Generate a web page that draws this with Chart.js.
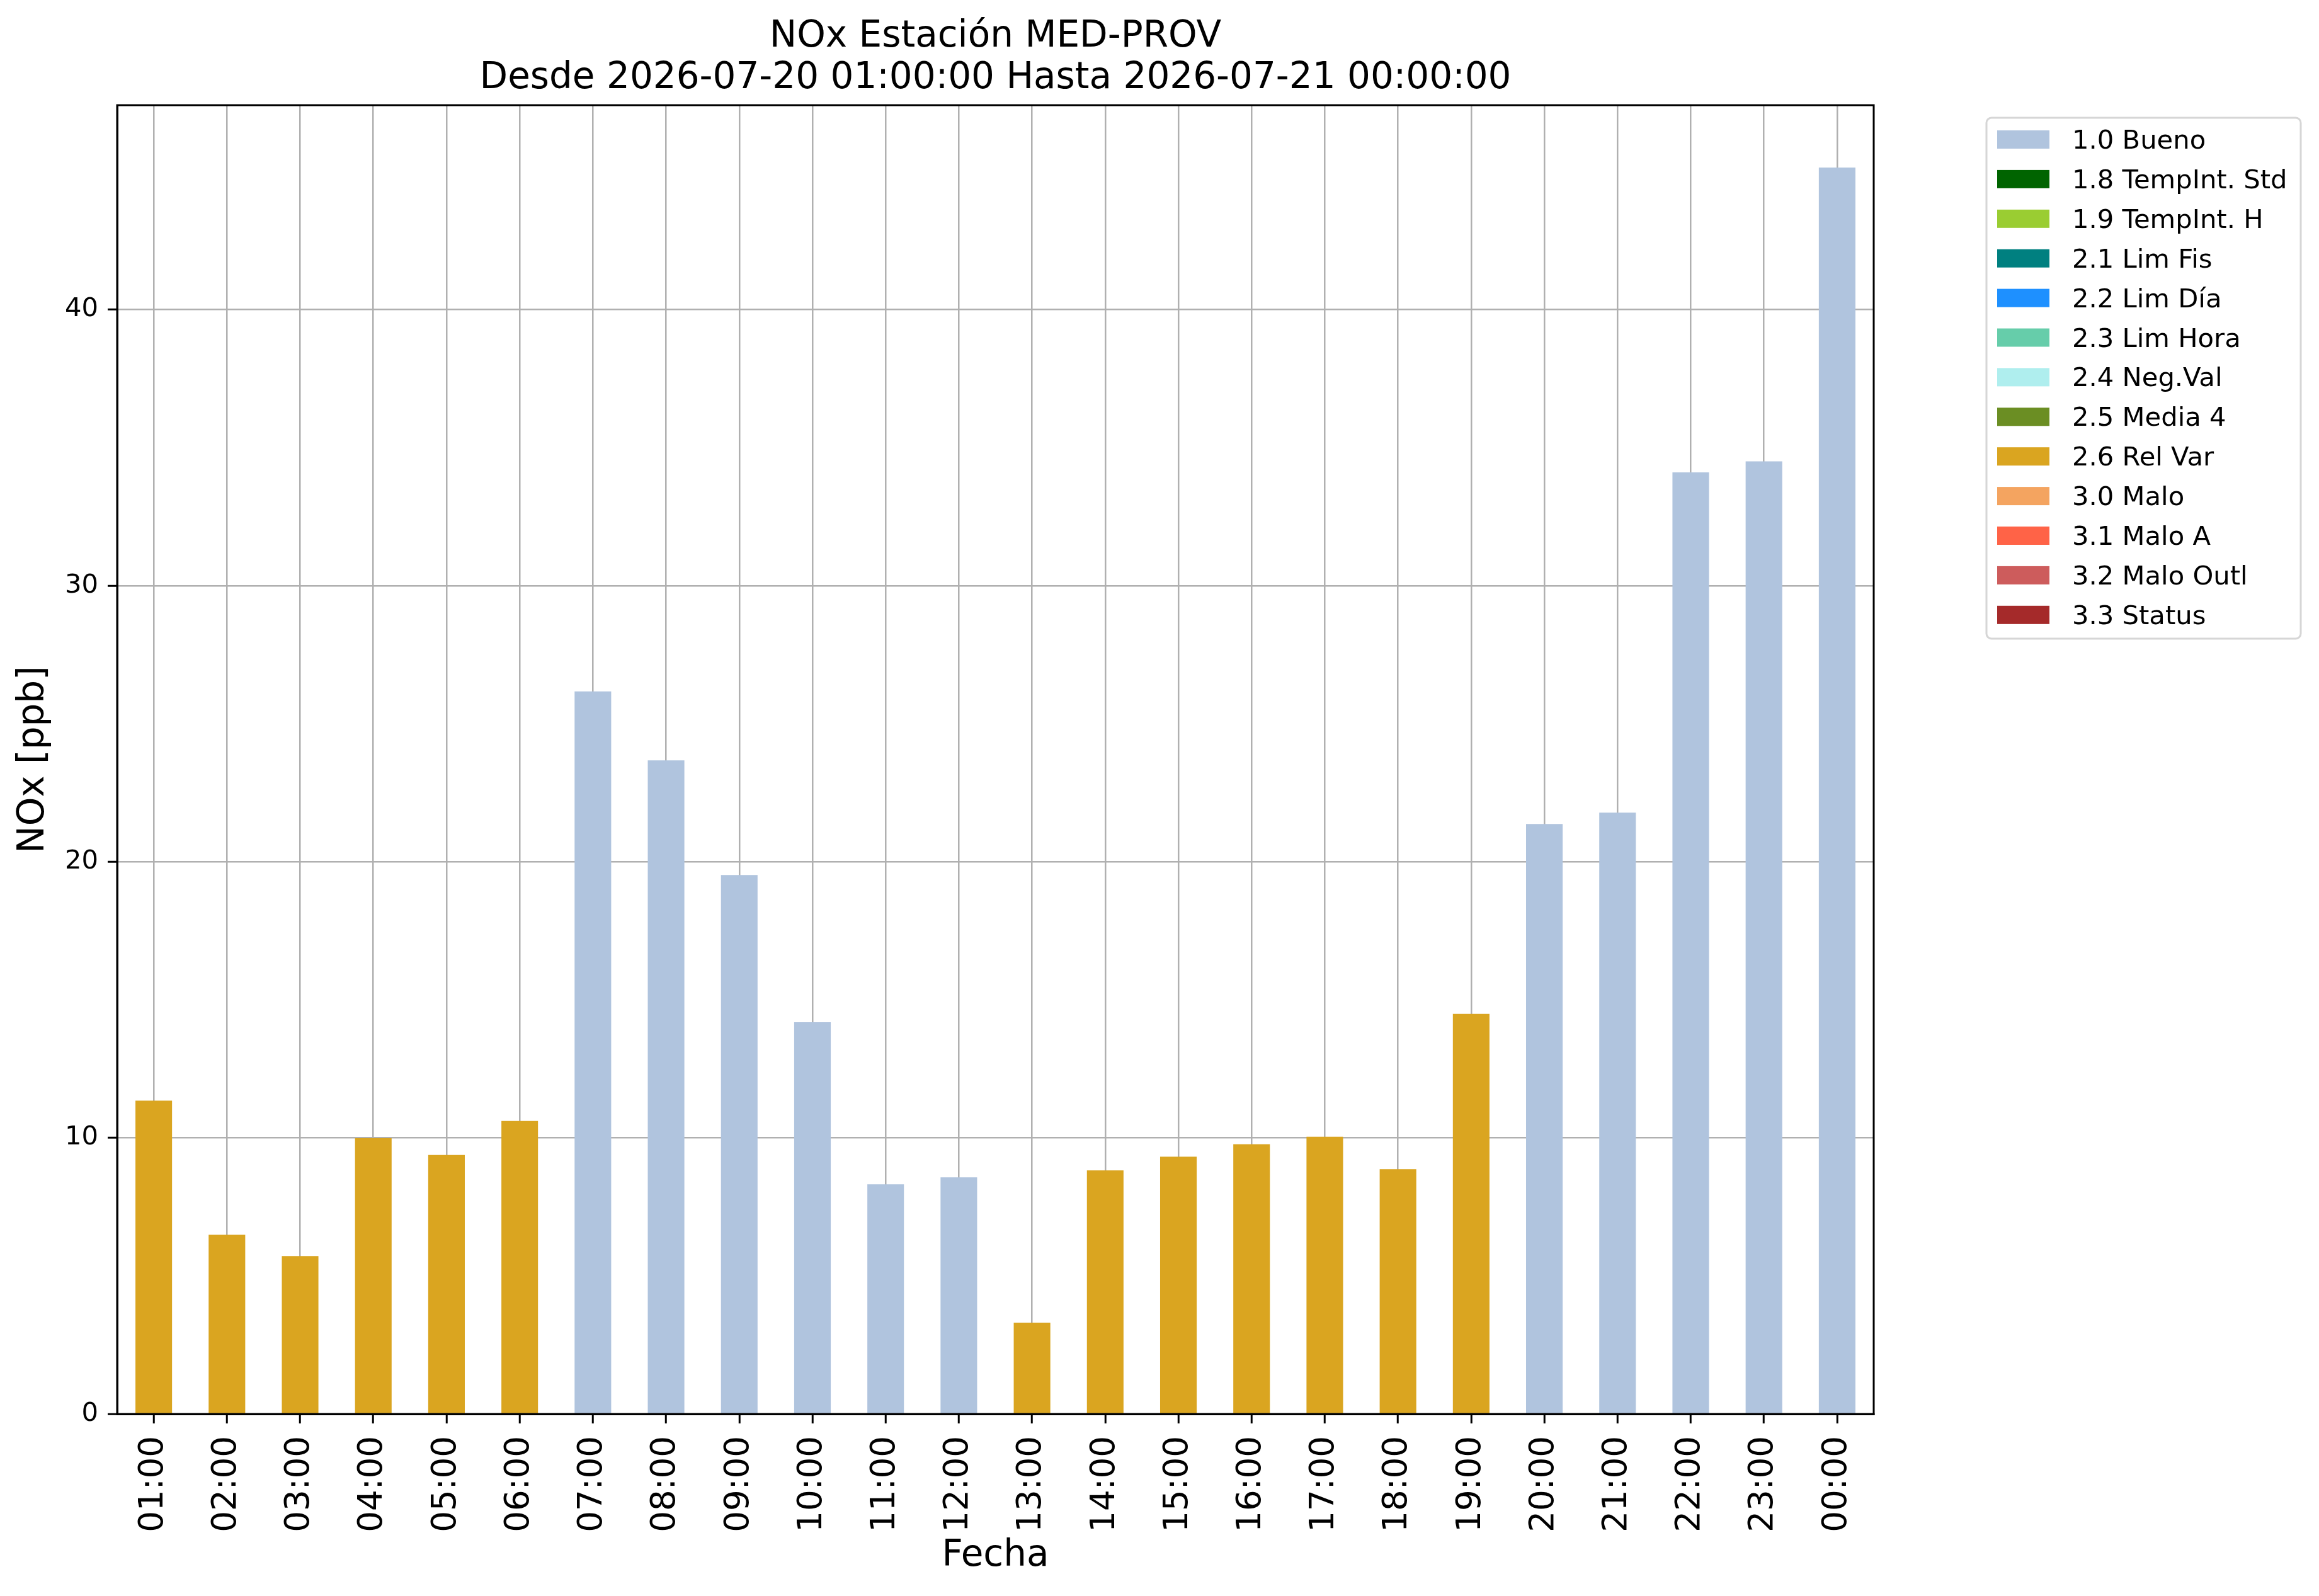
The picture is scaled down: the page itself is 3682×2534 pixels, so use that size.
<!DOCTYPE html>
<html>
<head>
<meta charset="utf-8">
<script src="https://cdn.jsdelivr.net/npm/chart.js@4.4.1/dist/chart.umd.min.js"></script>
<style>
html,body{margin:0;padding:0;background:#fff;}
canvas{display:block;}
</style>
</head>
<body>
<canvas id="c" width="3682" height="2534" style="width:3682px;height:2534px"></canvas>
<script>
// ---------------- data ----------------
const hours = ['01:00','02:00','03:00','04:00','05:00','06:00','07:00','08:00','09:00','10:00','11:00','12:00',
               '13:00','14:00','15:00','16:00','17:00','18:00','19:00','20:00','21:00','22:00','23:00','00:00'];
const noxValues = [11.35, 6.49, 5.72, 9.99, 9.38, 10.61, 26.17, 23.67, 19.52, 14.19, 8.32, 8.57,
                   3.31, 8.82, 9.32, 9.77, 10.04, 8.87, 14.49, 21.37, 21.78, 34.10, 34.50, 45.14];
const hourFlags = ['2.6 Rel Var','2.6 Rel Var','2.6 Rel Var','2.6 Rel Var','2.6 Rel Var','2.6 Rel Var',
                   '1.0 Bueno','1.0 Bueno','1.0 Bueno','1.0 Bueno','1.0 Bueno','1.0 Bueno',
                   '2.6 Rel Var','2.6 Rel Var','2.6 Rel Var','2.6 Rel Var','2.6 Rel Var','2.6 Rel Var','2.6 Rel Var',
                   '1.0 Bueno','1.0 Bueno','1.0 Bueno','1.0 Bueno','1.0 Bueno'];
const flagLabels = ['1.0 Bueno','1.8 TempInt. Std','1.9 TempInt. H','2.1 Lim Fis','2.2 Lim Día','2.3 Lim Hora',
                    '2.4 Neg.Val','2.5 Media 4','2.6 Rel Var','3.0 Malo','3.1 Malo A','3.2 Malo Outl','3.3 Status'];
const flagColors = ['#B0C4DE','#006400','#9ACD32','#008080','#1E90FF','#66CDAA',
                    '#AFEEEE','#6B8E23','#DAA520','#F4A460','#FF6347','#CD5C5C','#A52A2A'];
const titleLines = ['NOx Estación MED-PROV', 'Desde 2026-07-20 01:00:00 Hasta 2026-07-21 00:00:00'];
const yTicks = [0, 10, 20, 30, 40];
const yMax = 47.4;
const xTitle = 'Fecha';
const yTitle = 'NOx [ppb]';

// ---------------- chart ----------------
const FONT = 'DejaVu Sans';

const datasets = flagLabels.map((lab, k) => ({
  label: lab,
  data: noxValues.map((v, i) => hourFlags[i] === lab ? v : null),
  backgroundColor: flagColors[k],
  borderWidth: 0,
  barPercentage: 0.5,
  categoryPercentage: 1.0
}));

const decor = {
  id: 'decor',
  beforeDraw(chart) {
    const ctx = chart.ctx;
    ctx.save();
    ctx.fillStyle = '#fff';
    ctx.fillRect(0, 0, chart.width, chart.height);
    ctx.restore();
  },
  afterDraw(chart) {
    const ctx = chart.ctx;
    const a = chart.chartArea;
    ctx.save();
    // axes frame (all four spines)
    ctx.strokeStyle = '#000';
    ctx.lineWidth = 3;
    ctx.strokeRect(a.left, a.top, a.right - a.left, a.bottom - a.top);

    // title
    ctx.fillStyle = '#000';
    ctx.font = '58px "' + FONT + '"';
    ctx.textAlign = 'center';
    ctx.textBaseline = 'alphabetic';
    const cx = (a.left + a.right) / 2;
    ctx.fillText(titleLines[0], cx, a.top - 93);
    ctx.fillText(titleLines[1], cx, a.top - 27);

    // legend
    const lx = a.right + 179, ly = a.top + 20, lw = 499, lh = 827;
    ctx.beginPath();
    ctx.roundRect(lx, ly, lw, lh, 8);
    ctx.fillStyle = 'rgba(255,255,255,0.8)';
    ctx.fill();
    ctx.strokeStyle = '#d6d6d6';
    ctx.lineWidth = 3;
    ctx.stroke();
    ctx.font = '41.7px "' + FONT + '"';
    ctx.textAlign = 'left';
    ctx.textBaseline = 'alphabetic';
    chart.data.datasets.forEach((ds, i) => {
      const base = ly + 49 + i * 62.9;
      ctx.fillStyle = ds.backgroundColor;
      ctx.fillRect(lx + 17, base - 29, 83, 29);
      ctx.fillStyle = '#000';
      ctx.fillText(ds.label, lx + 136, base);
    });
    ctx.restore();
  }
};

const gridCommon = {
  display: true,
  color: '#b0b0b0',
  lineWidth: 2.5,
  drawTicks: true,
  tickLength: 15,
  tickColor: '#000',
  tickWidth: 3
};

new Chart(document.getElementById('c'), {
  type: 'bar',
  data: { labels: hours, datasets: datasets },
  plugins: [decor],
  options: {
    responsive: false,
    devicePixelRatio: 1,
    animation: false,
    layout: { padding: { top: 167, right: 707, left: 0, bottom: 0 }, autoPadding: false },
    plugins: {
      legend: { display: false },
      title: { display: false },
      tooltip: { enabled: false }
    },
    scales: {
      x: {
        type: 'category',
        stacked: true,
        offset: true,
        z: 1,
        grid: Object.assign({}, gridCommon, { offset: false }),
        border: { display: true, color: '#000', width: 3 },
        ticks: {
          minRotation: 90, maxRotation: 90, autoSkip: false, padding: 20,
          color: '#000', font: { family: FONT, size: 53 }
        },
        title: {
          display: true, text: xTitle, color: '#000',
          font: { family: FONT, size: 58 }, padding: { top: 0, bottom: 28 }
        },
        afterFit(s) { s.height = 289; s.paddingLeft = 0; s.paddingRight = 0; }
      },
      y: {
        stacked: true,
        min: 0,
        max: yMax,
        z: 1,
        grid: gridCommon,
        border: { display: true, color: '#000', width: 3 },
        ticks: {
          padding: 15, color: '#000', font: { family: FONT, size: 41.7 }
        },
        afterBuildTicks(s) { s.ticks = yTicks.map(v => ({ value: v })); },
        title: {
          display: true, text: yTitle, color: '#000',
          font: { family: FONT, size: 58 }, padding: { top: 19, bottom: 0 }
        },
        afterFit(s) { s.width = 186; s.paddingTop = 0; s.paddingBottom = 0; }
      }
    }
  }
});
</script>
</body>
</html>
